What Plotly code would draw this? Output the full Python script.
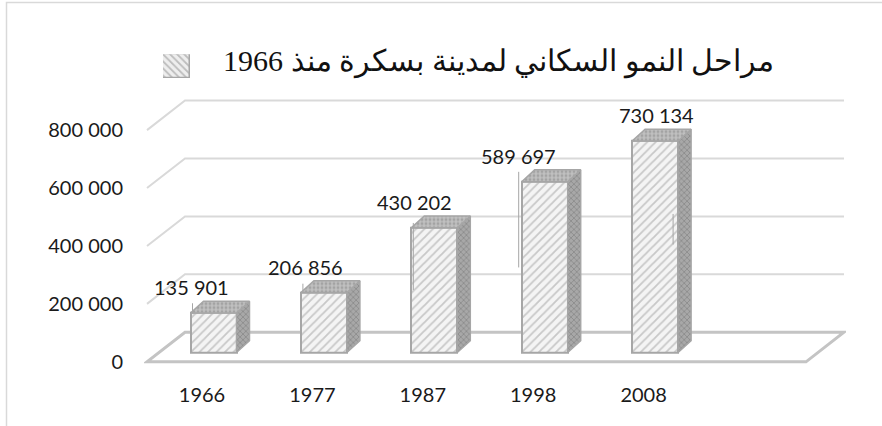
import numpy as np
import plotly.graph_objects as go

# ---------------- data ----------------
years = ["1966", "1977", "1987", "1998", "2008"]
population = [135901, 206856, 430202, 589697, 730134]
value_labels = ["135 901", "206 856", "430 202", "589 697", "730 134"]
y_tick_values = [0, 200000, 400000, 600000, 800000]
y_tick_labels = ["0", "200 000", "400 000", "600 000", "800 000"]
series_name = "مراحل النمو السكاني لمدينة بسكرة منذ 1966"

# ---------------- geometry / style (pixels) ----------------
W, H = 882, 426
PL, PR, PT, PB = 144, 846, 95, 372
zero_px = 367
front_left_px = 147
first_cat_px = 202
px_per_cat = 110.4
y_per_px = 800000 / 235.0

def dxu(px):
    return px / px_per_cat

def dyu(px):
    return px * y_per_px

x_lo = -(first_cat_px - PL) / px_per_cat
x_hi = x_lo + (PR - PL) / px_per_cat
y_lo = -dyu(PB - zero_px)
y_hi = y_lo + dyu(PB - PT)

x_front_left = -(first_cat_px - front_left_px) / px_per_cat
x_front_right = x_front_left + dxu(806 - 147)
wall_dx, wall_dy = dxu(38), dyu(30)
plane_dx, plane_dy = dxu(11.5), dyu(9.5)
bar_w = dxu(46)
depth_dx, depth_dy = dxu(13), dyu(12)
label_dx_px = [-22, -18, -20, -26, 1]
label_dy_px = 26
# leader-line style: (x offset from bar left edge, start above top, end above top) in px
leader_px = [(2, 10, 0), (2, 9, 0), (2, 5, -63), (-3, 10, -87), (41, -74, -105)]

idx = np.arange(len(years))
pop = np.array(population, dtype=float)

GRID = "#d9d9d9"
FLOOR = "#c4c4c4"
EDGE = "#a6a6a6"
TXT = "#1a1a1a"

fig = go.Figure()

# front faces of the bars
fig.add_trace(go.Bar(
    x=idx + plane_dx, y=pop, base=plane_dy, width=bar_w,
    marker=dict(color="#f4f4f4",
                line=dict(color=EDGE, width=2),
                pattern=dict(shape="/", fgcolor="#9c9c9c", bgcolor="#f4f4f4",
                             size=6, solidity=0.3)),
    showlegend=False, hoverinfo="skip", xaxis="x", yaxis="y"))

# side and top faces
for i in idx:
    xl = i + plane_dx - bar_w / 2
    xr = i + plane_dx + bar_w / 2
    b = plane_dy
    t = plane_dy + pop[i]
    fig.add_trace(go.Scatter(
        x=[xr, xr + depth_dx, xr + depth_dx, xr, xr],
        y=[b, b + depth_dy, t + depth_dy, t, b],
        mode="lines", fill="toself", fillcolor="#a8a8a8",
        fillpattern=dict(shape="x", fgcolor="#707070", bgcolor="#a8a8a8", size=4, solidity=0.4),
        line=dict(color=EDGE, width=1.5), showlegend=False, hoverinfo="skip"))
    fig.add_trace(go.Scatter(
        x=[xl, xl + depth_dx, xr + depth_dx, xr, xl],
        y=[t, t + depth_dy, t + depth_dy, t, t],
        mode="lines", fill="toself", fillcolor="#c0c0c0",
        fillpattern=dict(shape=".", fgcolor="#858585", bgcolor="#c0c0c0", size=4, solidity=0.4),
        line=dict(color=EDGE, width=1.5), showlegend=False, hoverinfo="skip"))

# legend swatch (mini bar)
fig.add_trace(go.Bar(
    x=[0], y=[1], width=1, xaxis="x2", yaxis="y2",
    marker=dict(color="#eeeeee", line=dict(color=EDGE, width=1.5),
                pattern=dict(shape="\\", fgcolor="#8c8c8c", bgcolor="#eeeeee",
                             size=5, solidity=0.35)),
    showlegend=False, hoverinfo="skip"))

shapes = []
# back-wall gridlines with the diagonal on the side wall
for v in y_tick_values[1:]:
    shapes.append(dict(
        type="path", xref="x", yref="y", layer="below",
        path=f"M{x_front_left},{v} L{x_front_left + wall_dx},{v + wall_dy} L{x_front_right + wall_dx},{v + wall_dy}",
        line=dict(color=GRID, width=2)))
# floor
shapes.append(dict(
    type="path", xref="x", yref="y", layer="below",
    path=(f"M{x_front_left},0 L{x_front_right},0 L{x_front_right + wall_dx},{wall_dy} "
          f"L{x_front_left + wall_dx},{wall_dy} Z"),
    line=dict(color=FLOOR, width=3)))
# chart border
shapes.append(dict(type="rect", xref="paper", yref="paper",
                   x0=6.5 / W, x1=1.05, y0=-0.05, y1=1 - 2.5 / H,
                   line=dict(color="#d9d9d9", width=1.5), layer="below"))
# data-label leader lines
for i in idx:
    ox, a, bb = leader_px[i]
    xl = i + plane_dx - bar_w / 2 + dxu(ox)
    t = plane_dy + pop[i]
    shapes.append(dict(type="line", xref="x", yref="y", layer="above",
                       x0=xl, x1=xl, y0=t + dyu(a), y1=t + dyu(bb),
                       line=dict(color=EDGE, width=1)))

annotations = []
for i in idx:
    annotations.append(dict(
        x=i + plane_dx + dxu(label_dx_px[i]), y=pop[i] + plane_dy + dyu(label_dy_px),
        xref="x", yref="y", text=value_labels[i], showarrow=False,
        font=dict(family="Lato", size=20, color=TXT), xanchor="center", yanchor="middle"))
annotations.append(dict(
    x=(222 + 775) / 2 / W, y=1 - 62 / H, xref="paper", yref="paper",
    text="\u202b" + series_name + "\u202c", showarrow=False,
    font=dict(family="Liberation Serif", size=30, color="#111111"),
    xanchor="center", yanchor="middle"))

fig.update_layout(
    width=W, height=H,
    margin=dict(l=0, r=0, t=0, b=0),
    paper_bgcolor="white", plot_bgcolor="rgba(0,0,0,0)",
    bargap=0, shapes=shapes, annotations=annotations,
    xaxis=dict(domain=[PL / W, PR / W], range=[x_lo, x_hi],
               tickmode="array", tickvals=idx, ticktext=years,
               showgrid=False, zeroline=False, showline=False,
               ticks="", ticklabelstandoff=14,
               tickfont=dict(family="Lato", size=20, color=TXT)),
    yaxis=dict(domain=[1 - PB / H, 1 - PT / H], range=[y_lo, y_hi],
               tickmode="array", tickvals=y_tick_values, ticktext=y_tick_labels,
               showgrid=False, zeroline=False, showline=False,
               ticks="", ticklabelstandoff=20,
               tickfont=dict(family="Lato", size=20, color=TXT)),
    xaxis2=dict(domain=[163 / W, 190 / W], range=[-0.5, 0.5], visible=False, anchor="y2"),
    yaxis2=dict(domain=[1 - 79 / H, 1 - 55 / H], range=[0, 1], visible=False, anchor="x2"),
)

fig.write_html("out.html", config={"displayModeBar": False},
               post_script="document.body.style.margin='0';document.body.style.overflow='hidden';")
